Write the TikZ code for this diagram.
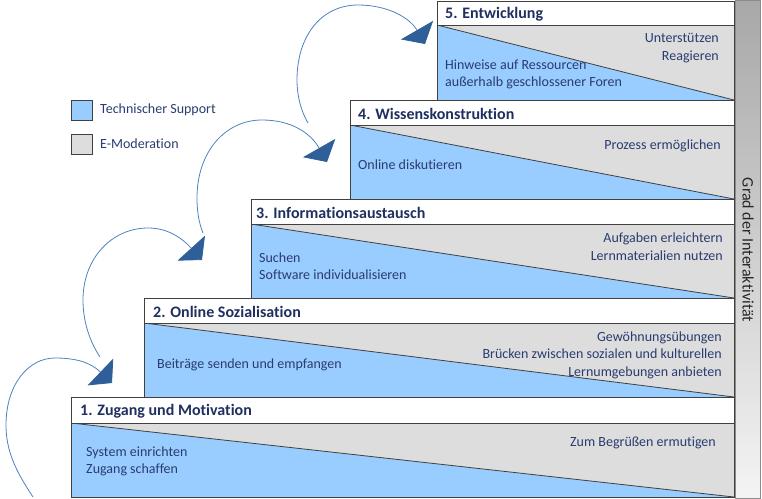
\documentclass[tikz,border=0pt]{standalone}
\usepackage{fontspec}
\setmainfont{Carlito}[Ligatures=NoCommon]
\usetikzlibrary{arrows.meta}
\definecolor{blueT}{HTML}{99CCFF}
\definecolor{grayE}{HTML}{DDDDDD}
\definecolor{edgeC}{HTML}{404040}
\definecolor{titleC}{HTML}{1F2F5F}
\definecolor{textC}{HTML}{2A3C70}
\definecolor{curveC}{HTML}{4F81BD}
\definecolor{headC}{HTML}{2E5F99}
\definecolor{barTop}{HTML}{A8A8A8}
\definecolor{barBot}{HTML}{F4F4F4}
\definecolor{barEdge}{HTML}{8C8C8C}
\begin{document}
\begin{tikzpicture}[x=1pt,y=-1pt,
  edge/.style={draw=edgeC,line width=0.8pt},
  steptitle/.style={anchor=west,inner sep=0pt,text=titleC,font=\fontsize{16}{19}\selectfont\bfseries},
  lefttext/.style={anchor=west,inner sep=0pt,align=left,text=textC,font=\fontsize{14}{17.5}\selectfont},
  righttext/.style={anchor=east,inner sep=0pt,align=right,text=textC,font=\fontsize{14}{17.5}\selectfont},
  legendbox/.style={draw=edgeC,line width=0.6pt,minimum width=21pt,minimum height=20pt,inner sep=0pt},
  arc/.style={draw=curveC,line width=0.8pt,-{Triangle[width=37pt,length=16pt,color=headC,fill=headC]}}
]
\useasboundingbox (0,0) rectangle (762,498);
% steps
\foreach \L/\T/\M/\B in {437/1/25/100, 350/100/125/199, 251/199/224/298, 144/298/323/397, 71/397/423/497} {
  \fill[grayE] (\L,\M) rectangle (734,\B);
  \fill[blueT] (\L,\M) -- (\L,\B) -- (734,\B) -- cycle;
  \draw[edge] (\L,\M) -- (734,\B);
  \draw[edge,fill=white] (\L,\T) rectangle (734,\M);
  \draw[edge] (\L,\T) rectangle (734,\B);
}
% bar
\shade[top color=barTop,bottom color=barBot,draw=barEdge,line width=0.8pt] (735,0) rectangle (760,498);
\node[rotate=-90,inner sep=0pt,text=black!85,font=\fontsize{16}{18}\selectfont] (bar) at (748,250) {Grad der Interaktivität};
% titles
\node[steptitle] (t5) at (445,14) {5. Entwicklung};
\node[steptitle] (t4) at (358,113.5) {4. Wissenskonstruktion};
\node[steptitle] (t3) at (256,212.5) {3. Informationsaustausch};
\node[steptitle] (t2) at (153,311.5) {2. Online Sozialisation};
\node[steptitle] (t1) at (80,411) {1. Zugang und Motivation};
% step 5
\node[righttext] (r5) at (719,48) {Unterstützen\\Reagieren};
\node[lefttext] (l5) at (445,74.5) {Hinweise auf Ressourcen\\außerhalb geschlossener Foren};
% step 4
\node[righttext] (r4) at (721,146) {Prozess ermöglichen};
\node[lefttext] (l4) at (358,165) {Online diskutieren};
% step 3
\node[righttext] (r3) at (723,246.5) {Aufgaben erleichtern\\Lernmaterialien nutzen};
\node[lefttext] (l3) at (259,266) {Suchen\\Software individualisieren};
% step 2
\node[righttext] (r2) at (722,355) {Gewöhnungsübungen\\Brücken zwischen sozialen und kulturellen\hspace*{3.5pt}\\Lernumgebungen anbieten};
\node[lefttext] (l2) at (157,365) {Beiträge senden und empfangen};
% step 1
\node[righttext] (r1) at (716,443) {Zum Begrüßen ermutigen};
\node[lefttext] (l1) at (86,461.5) {System einrichten\\Zugang schaffen};
% legend
\node[legendbox,fill=blueT] (lgb) at (81.5,110) {};
\node[legendbox,fill=grayE] (lgg) at (81.5,144) {};
\node[lefttext,anchor=west] (lgbt) at (100,110) {Technischer Support};
\node[lefttext,anchor=west] (lggt) at (100,144) {E-Moderation};
% curves
\coordinate (c1s) at (33,497);
\coordinate (c1e) at (112,383);
\coordinate (c2s) at (100,357);
\coordinate (c2e) at (202,260);
\coordinate (c3s) at (203,233);
\coordinate (c3e) at (327,162);
\coordinate (c4s) at (308,123);
\coordinate (c4e) at (425,44);
\draw[arc] (c1s) .. controls (15,470) and (6,450) .. (6,425) .. controls (6,385) and (28,358) .. (55,358) .. controls (75,358) and (90,362) .. (c1e);
\draw[arc] (c2s) .. controls (90,342) and (83,322) .. (83,300) .. controls (83,258) and (112,228) .. (148,228) .. controls (168,228) and (182,238) .. (c2e);
\draw[arc] (c3s) .. controls (199,223) and (197,212) .. (197,198) .. controls (197,152) and (225,120) .. (262,120) .. controls (290,120) and (310,132) .. (c3e);
\draw[arc] (c4s) .. controls (301,111) and (297,96) .. (297,80) .. controls (297,35) and (322,5) .. (358,5) .. controls (388,5) and (410,18) .. (c4e);
\end{tikzpicture}
\end{document}
